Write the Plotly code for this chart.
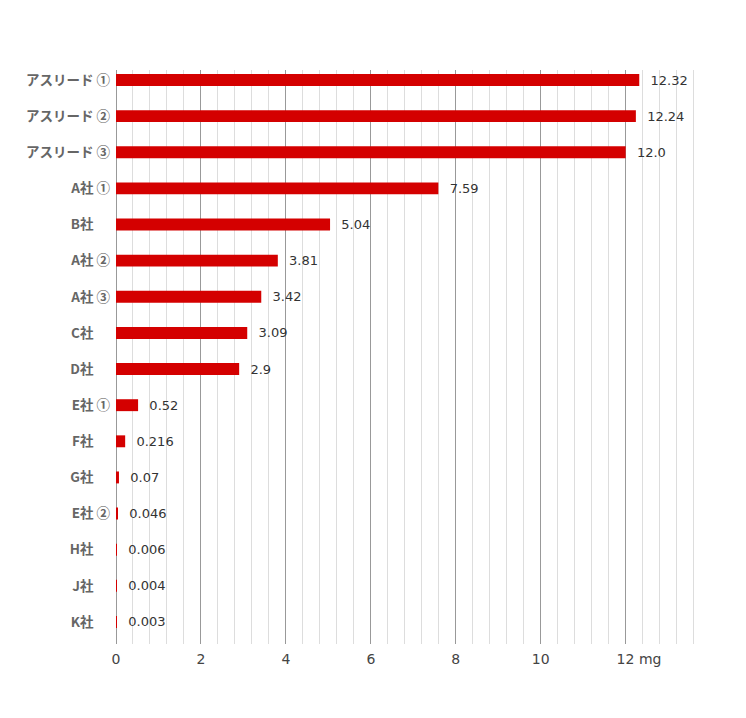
import plotly.graph_objects as go

# Categories top to bottom
companies = ["アスリード ①", "アスリード ②", "アスリード ③", "A社 ①", "B社", "A社 ②", "A社 ③",
             "C社", "D社", "E社 ①", "F社", "G社", "E社 ②", "H社", "J社", "K社"]
amounts = [12.32, 12.24, 12.0, 7.59, 5.04, 3.81, 3.42, 3.09, 2.9, 0.52, 0.216, 0.07, 0.046,
           0.006, 0.004, 0.003]
labels = ["12.32", "12.24", "12.0", "7.59", "5.04", "3.81", "3.42", "3.09", "2.9", "0.52",
          "0.216", "0.07", "0.046", "0.006", "0.004", "0.003"]
tick_vals = [0, 2, 4, 6, 8, 10, 12]
tick_text = ["0", "2", "4", "6", "8", "10", "12 mg"]

NB = "\u00a0"
# keep "12" centred on its tick, " mg" hanging to the right
tick_text_padded = [t if " " not in t else NB * 6 + t.replace(" ", NB) for t in tick_text]
# names without a circled number are left-aligned with the others
circled = "①②③"
company_text = [c if c[-1] in circled else c + NB + "\u3000" for c in companies]

fig = go.Figure()
fig.add_trace(go.Bar(
    y=companies,
    x=amounts,
    orientation="h",
    width=0.33,
    marker=dict(color="#d40000", line=dict(width=0)),
    text=[NB * 2 + t for t in labels],
    textposition="outside",
    constraintext="none",
    cliponaxis=False,
    textfont=dict(family="DejaVu Sans", size=13, color="#333333"),
))

fig.update_layout(
    width=746,
    height=718,
    margin=dict(l=108, r=54, t=62, b=82),
    plot_bgcolor="white",
    paper_bgcolor="white",
    showlegend=False,
    xaxis=dict(
        range=[0, 13.75],
        tickvals=tick_vals,
        ticktext=tick_text_padded,
        showgrid=True,
        gridcolor="#999999",
        gridwidth=1,
        minor=dict(dtick=0.4, tick0=0, showgrid=True, gridcolor="#dddddd", gridwidth=1),
        zeroline=True,
        zerolinecolor="#999999",
        zerolinewidth=1,
        showline=False,
        ticks="",
        ticklabelstandoff=5,
        automargin=False,
        tickfont=dict(family="DejaVu Sans", size=14, color="#444444"),
    ),
    # major gridlines poke out above the plot area
    xaxis2=dict(
        overlaying="x",
        matches="x",
        side="top",
        tickvals=tick_vals,
        ticks="outside",
        ticklen=9,
        tickwidth=1,
        tickcolor="#999999",
        showticklabels=False,
        showgrid=False,
        zeroline=False,
        showline=False,
        automargin=False,
    ),
    yaxis=dict(
        range=[15.61, -0.277],
        tickvals=companies,
        ticktext=company_text,
        showgrid=False,
        ticks="",
        automargin=False,
        ticklabelstandoff=5,
        tickfont=dict(family="Noto Sans CJK JP", size=13.5, color="#666666", weight="bold"),
    ),
)

fig.write_html("out.html")
